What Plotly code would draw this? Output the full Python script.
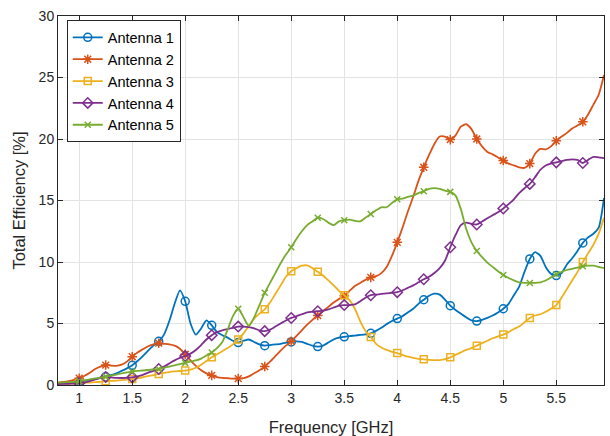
import plotly.graph_objects as go

# Frequency samples [GHz]
freq = [0.80, 0.85, 0.90, 0.95, 1.00, 1.05, 1.10, 1.15, 1.20, 1.25,
        1.30, 1.35, 1.40, 1.45, 1.50, 1.55, 1.60, 1.65, 1.70, 1.75,
        1.80, 1.85, 1.90, 1.95, 2.00, 2.05, 2.10, 2.15, 2.20, 2.25,
        2.30, 2.35, 2.40, 2.45, 2.50, 2.55, 2.60, 2.65, 2.70, 2.75,
        2.80, 2.85, 2.90, 2.95, 3.00, 3.05, 3.10, 3.15, 3.20, 3.25,
        3.30, 3.35, 3.40, 3.45, 3.50, 3.55, 3.60, 3.65, 3.70, 3.75,
        3.80, 3.85, 3.90, 3.95, 4.00, 4.05, 4.10, 4.15, 4.20, 4.25,
        4.30, 4.35, 4.40, 4.45, 4.50, 4.55, 4.60, 4.65, 4.70, 4.75,
        4.80, 4.85, 4.90, 4.95, 5.00, 5.05, 5.10, 5.15, 5.20, 5.25,
        5.30, 5.35, 5.40, 5.45, 5.50, 5.55, 5.60, 5.65, 5.70, 5.75,
        5.80, 5.85, 5.90, 5.95]

antenna1 = [0.15, 0.18, 0.22, 0.26, 0.30, 0.36, 0.42, 0.50, 0.58, 0.68,
            0.80, 0.95, 1.15, 1.35, 1.60, 1.95, 2.35, 2.80, 3.20, 3.55,
            4.10, 5.20, 6.60, 7.70, 6.80, 5.00, 4.10, 4.60, 5.25, 4.85,
            4.30, 4.05, 3.85, 3.60, 3.45, 3.60, 3.70, 3.50, 3.30, 3.20,
            3.25, 3.30, 3.35, 3.45, 3.50, 3.55, 3.50, 3.35, 3.20, 3.12,
            3.20, 3.45, 3.70, 3.85, 3.92, 3.98, 4.02, 4.07, 4.12, 4.20,
            4.40, 4.65, 4.95, 5.20, 5.40, 5.60, 5.90, 6.20, 6.60, 6.93,
            7.25, 7.42, 7.35, 6.95, 6.45, 6.10, 5.80, 5.50, 5.25, 5.20,
            5.30, 5.45, 5.65, 5.90, 6.20, 6.60, 7.30, 8.00, 9.20, 10.25,
            10.80, 10.50, 9.60, 9.05, 8.90, 9.10, 9.80, 10.30, 10.90, 11.55,
            12.00, 12.30, 12.80, 15.20]

antenna2 = [0.20, 0.25, 0.32, 0.42, 0.55, 0.75, 1.00, 1.30, 1.50, 1.62,
            1.58, 1.55, 1.65, 1.90, 2.30, 2.65, 2.90, 3.15, 3.30, 3.40,
            3.35, 3.30, 3.20, 2.95, 2.50, 2.00, 1.55, 1.20, 0.95, 0.78,
            0.65, 0.58, 0.55, 0.52, 0.52, 0.55, 0.70, 0.95, 1.20, 1.50,
            1.90, 2.35, 2.80, 3.20, 3.55, 4.00, 4.45, 4.90, 5.30, 5.65,
            6.00, 6.35, 6.70, 7.00, 7.25, 7.65, 8.05, 8.30, 8.55, 8.75,
            8.85, 9.10, 9.60, 10.50, 11.60, 12.80, 14.10, 15.30, 16.60, 17.70,
            18.70, 19.60, 20.20, 20.20, 19.95, 20.30, 21.00, 21.20, 20.80, 20.00,
            19.40, 18.95, 18.75, 18.50, 18.25, 18.00, 17.85, 17.70, 17.65, 18.00,
            18.80, 19.20, 19.15, 19.40, 19.85, 20.20, 20.50, 20.85, 21.10, 21.40,
            22.00, 22.80, 23.60, 25.20]

antenna3 = [0.08, 0.09, 0.10, 0.12, 0.14, 0.17, 0.20, 0.23, 0.26, 0.30,
            0.33, 0.36, 0.40, 0.44, 0.48, 0.55, 0.63, 0.72, 0.80, 0.90,
            0.98, 1.05, 1.10, 1.14, 1.17, 1.25, 1.40, 1.65, 1.95, 2.25,
            2.50, 2.75, 3.00, 3.30, 3.70, 4.20, 4.80, 5.40, 5.80, 6.15,
            6.70, 7.40, 8.10, 8.80, 9.25, 9.50, 9.70, 9.72, 9.50, 9.20,
            8.90, 8.50, 8.10, 7.65, 7.30, 6.90, 6.20, 5.20, 4.40, 3.90,
            3.35, 3.05, 2.85, 2.70, 2.60, 2.45, 2.30, 2.20, 2.13, 2.09,
            2.05, 2.02, 2.03, 2.10, 2.25, 2.45, 2.65, 2.85, 3.00, 3.20,
            3.40, 3.60, 3.80, 3.95, 4.10, 4.30, 4.55, 4.75, 5.10, 5.45,
            5.65, 5.75, 5.95, 6.20, 6.50, 7.10, 7.80, 8.50, 9.20, 10.00,
            10.70, 11.40, 12.30, 13.60]

antenna4 = [0.08, 0.09, 0.10, 0.12, 0.15, 0.22, 0.32, 0.45, 0.58, 0.65,
            0.62, 0.58, 0.57, 0.58, 0.62, 0.70, 0.82, 1.00, 1.15, 1.30,
            1.50, 1.75, 2.00, 2.20, 2.35, 2.55, 2.85, 3.25, 3.70, 4.05,
            4.30, 4.45, 4.55, 4.65, 4.75, 4.75, 4.70, 4.60, 4.45, 4.38,
            4.50, 4.75, 5.00, 5.25, 5.45, 5.60, 5.75, 5.90, 5.95, 6.00,
            6.05, 6.15, 6.30, 6.45, 6.50, 6.50, 6.55, 6.80, 7.10, 7.30,
            7.35, 7.40, 7.45, 7.50, 7.55, 7.70, 7.90, 8.10, 8.35, 8.60,
            8.80, 9.10, 9.50, 10.10, 11.20, 12.20, 13.00, 13.20, 13.10, 13.05,
            13.30, 13.55, 13.80, 14.05, 14.35, 14.70, 15.10, 15.60, 16.00, 16.35,
            16.90, 17.50, 17.85, 18.00, 18.10, 18.20, 18.30, 18.35, 18.30, 18.05,
            18.30, 18.55, 18.50, 18.45]

antenna5 = [0.20, 0.22, 0.24, 0.26, 0.30, 0.37, 0.45, 0.53, 0.60, 0.68,
            0.76, 0.85, 0.94, 1.02, 1.10, 1.15, 1.18, 1.22, 1.26, 1.30,
            1.40, 1.50, 1.60, 1.70, 1.80, 1.90, 2.00, 2.15, 2.40, 2.65,
            3.00, 3.50, 4.50, 5.60, 6.20, 5.50, 4.80, 5.50, 6.50, 7.50,
            8.30, 9.10, 9.90, 10.60, 11.20, 11.90, 12.50, 13.00, 13.30, 13.60,
            13.50, 13.20, 13.00, 13.30, 13.40, 13.45, 13.35, 13.30, 13.60, 13.90,
            14.20, 14.45, 14.45, 14.80, 15.10, 15.15, 15.30, 15.40, 15.60, 15.75,
            15.95, 16.00, 15.95, 15.80, 15.70, 15.40, 14.30, 12.70, 11.60, 10.90,
            10.40, 9.95, 9.60, 9.25, 8.95, 8.70, 8.50, 8.35, 8.30, 8.30,
            8.30, 8.35, 8.50, 8.75, 9.00, 9.20, 9.35, 9.45, 9.55, 9.65,
            9.70, 9.70, 9.60, 9.50]

names = ["Antenna 1", "Antenna 2", "Antenna 3", "Antenna 4", "Antenna 5"]
colors = ["#0072BD", "#D95319", "#EDB120", "#7E2F8E", "#77AC30"]
symbols = ["circle-open", "asterisk-open", "square-open", "diamond-open", "x-thin-open"]
msizes = [8, 8, 7, 8, 6]
series = [antenna1, antenna2, antenna3, antenna4, antenna5]

x_ticks = [1, 1.5, 2, 2.5, 3, 3.5, 4, 4.5, 5, 5.5]
x_ticklabels = ["1", "1.5", "2", "2.5", "3", "3.5", "4", "4.5", "5", "5.5"]
y_ticks = [0, 5, 10, 15, 20, 25, 30]

fig = go.Figure()
for name, col, sym, ms, ys in zip(names, colors, symbols, msizes, series):
    fig.add_trace(go.Scatter(
        x=freq, y=ys, mode="lines", line=dict(color=col, width=1.8, shape="spline", smoothing=0.6),
        showlegend=False, legendgroup=name, hoverinfo="skip"))
    fig.add_trace(go.Scatter(
        x=freq[4::5], y=ys[4::5], mode="markers",
        marker=dict(symbol=sym, size=ms, color=col, line=dict(color=col, width=1.5)),
        showlegend=False, legendgroup=name))
    fig.add_trace(go.Scatter(
        x=[None], y=[None], mode="lines+markers", name=name, legendgroup=name,
        line=dict(color=col, width=1.8),
        marker=dict(symbol=sym, size=ms, color=col, line=dict(color=col, width=1.5))))

axis_common = dict(
    showline=True, linecolor="#262626", linewidth=1, mirror="allticks",
    ticks="inside", ticklen=5, tickcolor="#262626",
    showgrid=True, gridcolor="#e3e3e3", gridwidth=1, zeroline=False,
    automargin=False,
    tickfont=dict(family="Liberation Sans, Arial", size=14, color="#262626"),
)

fig.update_layout(
    width=610, height=436,
    margin=dict(l=58, r=6, t=16, b=51),
    paper_bgcolor="white", plot_bgcolor="white",
    font=dict(family="Liberation Sans, Arial", size=14, color="#262626"),
    xaxis=dict(range=[0.8, 5.95], tickvals=x_ticks, ticktext=x_ticklabels,
               title=dict(text="Frequency [GHz]", font=dict(size=16.5), standoff=16), **axis_common),
    yaxis=dict(range=[0, 30], tickvals=y_ticks,
               title=dict(text="Total Efficiency [%]", font=dict(size=16.5), standoff=8), **axis_common),
    legend=dict(x=0.016, y=0.988, xanchor="left", yanchor="top",
                bgcolor="white", bordercolor="#262626", borderwidth=1,
                font=dict(family="Liberation Sans, Arial", size=14.5, color="#000000"),
                itemwidth=30, tracegroupgap=0),
)

fig.write_html("out.html", config={"displayModeBar": False},
               post_script="document.body.style.margin='0';document.body.style.padding='0';document.body.style.overflow='hidden';")
